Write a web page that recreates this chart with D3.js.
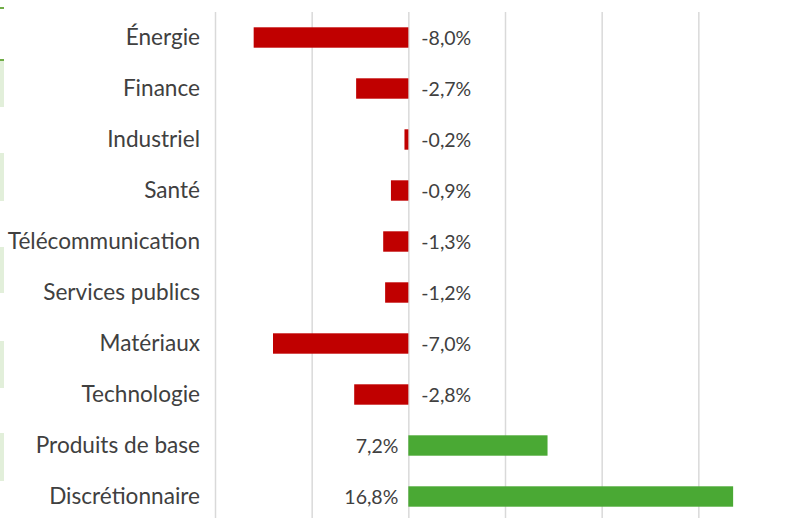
<!DOCTYPE html>
<html>
<head>
<meta charset="utf-8">
<script src="https://cdn.jsdelivr.net/npm/d3@7"></script>
<style>
  html, body { margin: 0; padding: 0; background: #ffffff; }
  svg { display: block; }
  text { font-family: Lato, "Open Sans", sans-serif; fill: #404040; }
</style>
</head>
<body>
<div id="chart"></div>
<script>
const categories = ["Énergie", "Finance", "Industriel", "Santé", "Télécommunication",
  "Services publics", "Matériaux", "Technologie", "Produits de base", "Discrétionnaire"];
const values = [-8.0, -2.7, -0.2, -0.9, -1.3, -1.2, -7.0, -2.8, 7.2, 16.8];
const labels = ["-8,0%", "-2,7%", "-0,2%", "-0,9%", "-1,3%", "-1,2%", "-7,0%", "-2,8%", "7,2%", "16,8%"];
const xTicks = [-10, -5, 0, 5, 10, 15, 20];

const W = 785, H = 518;
const svg = d3.select("#chart").append("svg").attr("width", W).attr("height", H);

// decorative cell fragments at the left edge
const cells = [[60, 107], [153, 201], [247, 293], [341, 388], [433, 481]];
svg.selectAll("rect.cell").data(cells).join("rect")
  .attr("x", 0).attr("width", 4).attr("y", d => d[0]).attr("height", d => d[1] - d[0])
  .attr("fill", "#e2efda");
svg.append("rect").attr("x", 0).attr("y", 59).attr("width", 4).attr("height", 2).attr("fill", "#70ad47");
svg.append("rect").attr("x", 0).attr("y", 7).attr("width", 4).attr("height", 2).attr("fill", "#70ad47");

const x = d3.scaleLinear().domain([-10, 20]).range([215, 795]);
const y = d3.scaleBand().domain(categories).range([12, 522]).paddingInner(0.6).paddingOuter(0.3);

// gridlines
const grid = svg.append("g").attr("transform", "translate(0,12)")
  .call(d3.axisBottom(x).tickValues(xTicks).tickSize(H).tickFormat(""));
grid.select(".domain").remove();
grid.selectAll(".tick line").attr("stroke", "#d9d9d9").attr("stroke-width", 1.5);

// bars
svg.selectAll("rect.bar").data(values).join("rect")
  .attr("class", "bar")
  .attr("x", d => x(Math.min(0, d)))
  .attr("width", d => Math.abs(x(d) - x(0)))
  .attr("y", (d, i) => y(categories[i]))
  .attr("height", y.bandwidth())
  .attr("fill", d => d < 0 ? "#c00000" : "#4aa934");

// category labels
const yAxis = svg.append("g").attr("transform", "translate(200,0)")
  .call(d3.axisLeft(y).tickSize(0).tickPadding(0));
yAxis.select(".domain").remove();
yAxis.selectAll(".tick text").style("font-size", "22.6px").attr("fill", "#404040")
  .style("font-family", "Lato, 'Open Sans', sans-serif");

// value labels
svg.selectAll("text.val").data(values).join("text")
  .attr("class", "val")
  .attr("x", d => d < 0 ? x(0) + 13 : x(0) - 10)
  .attr("y", (d, i) => y(categories[i]) + y.bandwidth() / 2 + 1)
  .attr("dy", "0.35em")
  .attr("text-anchor", d => d < 0 ? "start" : "end")
  .style("font-size", "19.5px")
  .text((d, i) => labels[i]);
</script>
</body>
</html>
